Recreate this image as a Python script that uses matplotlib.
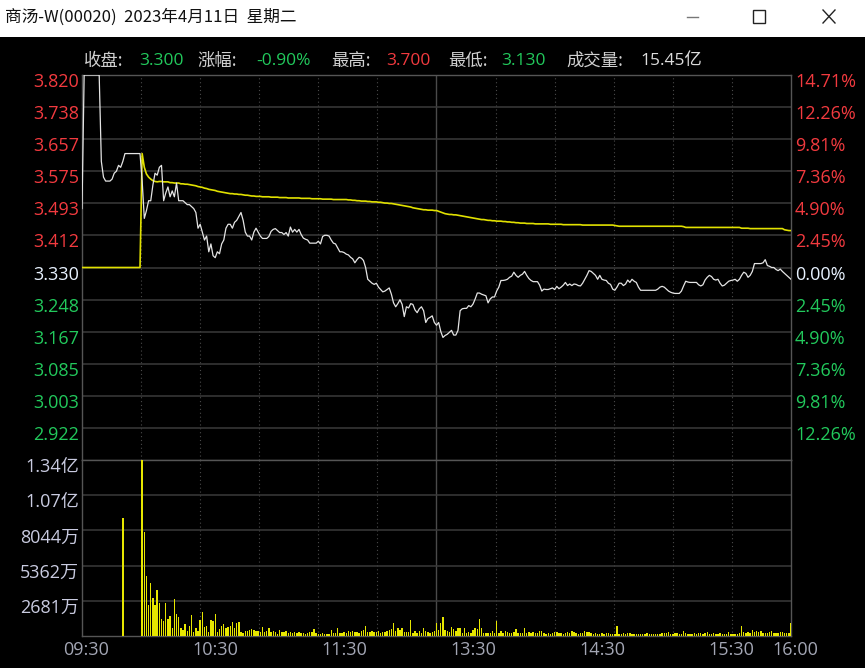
import matplotlib
matplotlib.use('Agg')
import matplotlib.pyplot as plt
from matplotlib import transforms
from matplotlib.lines import Line2D
from matplotlib.patches import Rectangle

# ---------------- data (minute index 0 = 09:30, 330 = 16:00) ----------------
title = '商汤-W(00020)  2023年4月11日  星期二'
prev_close = 3.330

price = [
    3.48, 3.82, 3.82, 3.82, 3.82, 3.82, 3.82, 3.82, 3.82, 3.60,
    3.56, 3.55, 3.55, 3.55, 3.555, 3.57, 3.575, 3.59, 3.585, 3.60,
    3.62, 3.62, 3.62, 3.62, 3.62, 3.62, 3.62, 3.62, 3.55, 3.455,
    3.475, 3.50, 3.50, 3.54, 3.57, 3.565, 3.585, 3.59, 3.50, 3.52,
    3.535, 3.51, 3.525, 3.51, 3.545, 3.50, 3.50, 3.50, 3.495, 3.49,
    3.49, 3.485, 3.48, 3.47, 3.43, 3.44, 3.42, 3.40, 3.41, 3.37,
    3.39, 3.36, 3.355, 3.37, 3.365, 3.39, 3.40, 3.43, 3.44, 3.44,
    3.43, 3.445, 3.45, 3.46, 3.47, 3.45, 3.42, 3.41, 3.41, 3.40,
    3.42, 3.43, 3.42, 3.41, 3.404, 3.404, 3.404, 3.409, 3.422, 3.427,
    3.429, 3.424, 3.419, 3.419, 3.414, 3.419, 3.41, 3.433, 3.42, 3.427,
    3.42, 3.427, 3.414, 3.405, 3.402, 3.40, 3.392, 3.392, 3.392, 3.392,
    3.397, 3.39, 3.409, 3.412, 3.412, 3.41, 3.40, 3.392, 3.39, 3.38,
    3.37, 3.37, 3.368, 3.364, 3.362, 3.356, 3.352, 3.342, 3.35, 3.356,
    3.354, 3.348, 3.33, 3.30, 3.295, 3.29, 3.287, 3.29, 3.28, 3.274,
    3.268, 3.27, 3.274, 3.278, 3.262, 3.24, 3.23, 3.238, 3.248, 3.236,
    3.205, 3.23, 3.227, 3.238, 3.236, 3.222, 3.215, 3.225, 3.23, 3.22,
    3.19, 3.20, 3.203, 3.207, 3.19, 3.183, 3.19, 3.167, 3.152, 3.157,
    3.16, 3.165, 3.17, 3.158, 3.158, 3.17, 3.22, 3.225, 3.226, 3.226,
    3.233, 3.23, 3.237, 3.25, 3.265, 3.265, 3.262, 3.26, 3.258, 3.24,
    3.25, 3.255, 3.255, 3.27, 3.28, 3.297, 3.297, 3.298, 3.30, 3.305,
    3.308, 3.318, 3.31, 3.305, 3.31, 3.313, 3.32, 3.31, 3.302, 3.297,
    3.294, 3.294, 3.294, 3.285, 3.27, 3.275, 3.274, 3.274, 3.276, 3.278,
    3.274, 3.282, 3.276, 3.28, 3.285, 3.292, 3.284, 3.288, 3.284, 3.288,
    3.287, 3.284, 3.283, 3.29, 3.30, 3.31, 3.322, 3.32, 3.315, 3.31,
    3.30, 3.31, 3.30, 3.298, 3.297, 3.29, 3.287, 3.275, 3.272, 3.28,
    3.29, 3.29, 3.284, 3.288, 3.298, 3.292, 3.30, 3.295, 3.292, 3.28,
    3.272, 3.272, 3.272, 3.272, 3.272, 3.272, 3.272, 3.272, 3.275, 3.28,
    3.282, 3.28, 3.275, 3.27, 3.267, 3.265, 3.264, 3.264, 3.264, 3.27,
    3.283, 3.295, 3.293, 3.292, 3.292, 3.292, 3.292, 3.286, 3.283, 3.286,
    3.298, 3.305, 3.31, 3.307, 3.30, 3.298, 3.30, 3.29, 3.283, 3.285,
    3.29, 3.295, 3.297, 3.298, 3.30, 3.295, 3.30, 3.31, 3.318, 3.315,
    3.305, 3.31, 3.32, 3.34, 3.34, 3.34, 3.34, 3.342, 3.35, 3.335,
    3.333, 3.33, 3.33, 3.325, 3.322, 3.326, 3.32, 3.315, 3.31, 3.305,
    3.30,
]

avg_price = [
    3.330, 3.330, 3.330, 3.330, 3.330, 3.330, 3.330, 3.330, 3.330, 3.330,
    3.330, 3.330, 3.330, 3.330, 3.330, 3.330, 3.330, 3.330, 3.330, 3.330,
    3.330, 3.330, 3.330, 3.330, 3.330, 3.330, 3.330, 3.330, 3.620, 3.585,
    3.568, 3.560, 3.555, 3.551, 3.549, 3.548, 3.549, 3.549, 3.548, 3.548,
    3.548, 3.546, 3.546, 3.545, 3.545, 3.545, 3.543, 3.543, 3.542, 3.542,
    3.541, 3.540, 3.539, 3.538, 3.536, 3.535, 3.534, 3.532, 3.531, 3.529,
    3.528, 3.527, 3.526, 3.524, 3.523, 3.522, 3.521, 3.520, 3.519, 3.518,
    3.518, 3.517, 3.517, 3.516, 3.516, 3.515, 3.514, 3.514, 3.513, 3.512,
    3.512, 3.511, 3.511, 3.511, 3.510, 3.510, 3.510, 3.510, 3.509, 3.509,
    3.509, 3.509, 3.508, 3.508, 3.508, 3.508, 3.507, 3.507, 3.507, 3.507,
    3.507, 3.507, 3.506, 3.506, 3.506, 3.506, 3.506, 3.505, 3.505, 3.505,
    3.505, 3.505, 3.504, 3.504, 3.504, 3.504, 3.504, 3.503, 3.503, 3.503,
    3.503, 3.503, 3.503, 3.503, 3.502, 3.502, 3.501, 3.501, 3.500, 3.500,
    3.499, 3.499, 3.499, 3.498, 3.498, 3.497, 3.497, 3.497, 3.496, 3.496,
    3.495, 3.494, 3.494, 3.493, 3.493, 3.492, 3.491, 3.490, 3.489, 3.488,
    3.487, 3.486, 3.485, 3.484, 3.482, 3.481, 3.480, 3.479, 3.478, 3.477,
    3.477, 3.476, 3.476, 3.476, 3.475, 3.475, 3.473, 3.471, 3.469, 3.467,
    3.466, 3.465, 3.465, 3.464, 3.464, 3.463, 3.462, 3.461, 3.460, 3.459,
    3.458, 3.457, 3.456, 3.455, 3.454, 3.453, 3.452, 3.452, 3.451, 3.450,
    3.450, 3.449, 3.449, 3.448, 3.448, 3.448, 3.447, 3.447, 3.446, 3.446,
    3.445, 3.445, 3.444, 3.444, 3.443, 3.443, 3.443, 3.442, 3.442, 3.442,
    3.442, 3.441, 3.441, 3.441, 3.441, 3.441, 3.441, 3.441, 3.440, 3.440,
    3.440, 3.440, 3.440, 3.440, 3.439, 3.439, 3.439, 3.439, 3.439, 3.439,
    3.439, 3.439, 3.439, 3.438, 3.438, 3.438, 3.438, 3.438, 3.438, 3.438,
    3.438, 3.438, 3.438, 3.438, 3.438, 3.438, 3.438, 3.438, 3.437, 3.436,
    3.435, 3.435, 3.435, 3.435, 3.435, 3.435, 3.435, 3.435, 3.435, 3.435,
    3.435, 3.435, 3.435, 3.435, 3.435, 3.435, 3.435, 3.435, 3.435, 3.435,
    3.435, 3.435, 3.435, 3.435, 3.435, 3.435, 3.435, 3.435, 3.435, 3.435,
    3.434, 3.432, 3.432, 3.432, 3.432, 3.432, 3.432, 3.432, 3.432, 3.432,
    3.432, 3.432, 3.432, 3.432, 3.432, 3.432, 3.432, 3.432, 3.432, 3.432,
    3.432, 3.432, 3.432, 3.432, 3.432, 3.432, 3.432, 3.430, 3.430, 3.430,
    3.430, 3.429, 3.429, 3.429, 3.429, 3.429, 3.429, 3.429, 3.429, 3.429,
    3.429, 3.429, 3.429, 3.429, 3.429, 3.429, 3.429, 3.426, 3.425, 3.424,
    3.424,
]

# volume per minute, in 万 shares
volume = [
    0, 0, 0, 0, 0, 0, 0, 0, 0, 0,
    0, 0, 0, 0, 0, 0, 0, 0, 0, 9015,
    0, 0, 0, 0, 0, 0, 0, 0, 13406, 7900,
    4600, 2360, 4060, 2870, 2360, 3500, 2490, 1300, 1140, 2490,
    1300, 1550, 580, 2790, 1650, 1470, 580, 460, 940, 380,
    740, 1600, 330, 580, 380, 1220, 1850, 710, 760, 330,
    1220, 1140, 1650, 330, 530, 760, 940, 580, 710, 740,
    1040, 580, 970, 1040, 330, 250, 380, 380, 460, 510,
    460, 410, 380, 330, 660, 330, 380, 580, 330, 410,
    330, 150, 480, 280, 280, 380, 250, 280, 200, 280,
    200, 280, 200, 230, 180, 230, 280, 330, 530, 250,
    150, 130, 200, 150, 130, 130, 480, 200, 250, 610,
    250, 200, 280, 250, 410, 330, 380, 330, 330, 200,
    410, 480, 760, 280, 330, 410, 280, 330, 380, 200,
    330, 330, 410, 480, 510, 970, 380, 580, 460, 610,
    330, 330, 280, 1220, 200, 380, 200, 410, 250, 580,
    380, 330, 250, 330, 380, 970, 480, 1016, 1422, 457,
    406, 330, 660, 508, 406, 584, 584, 254, 584, 254,
    330, 254, 457, 584, 508, 1295, 584, 254, 203, 203,
    254, 406, 254, 1143, 254, 406, 254, 406, 279, 254,
    203, 279, 508, 203, 254, 254, 584, 254, 279, 203,
    279, 203, 203, 406, 406, 203, 152, 203, 152, 203,
    330, 330, 203, 203, 152, 203, 279, 203, 406, 279,
    203, 152, 203, 203, 406, 330, 279, 203, 152, 254,
    152, 152, 203, 152, 254, 203, 152, 152, 152, 787,
    152, 152, 203, 152, 203, 203, 152, 152, 152, 152,
    152, 152, 152, 203, 152, 152, 152, 152, 152, 152,
    203, 254, 203, 330, 152, 152, 203, 203, 152, 152,
    406, 203, 152, 152, 152, 203, 152, 203, 254, 152,
    203, 279, 152, 152, 254, 152, 152, 203, 152, 152,
    152, 279, 152, 152, 152, 152, 203, 762, 279, 254,
    330, 203, 457, 330, 406, 330, 406, 254, 254, 203,
    330, 381, 254, 254, 203, 330, 279, 254, 203, 254,
    965,
]

minutes = list(range(len(price)))
assert len(price) == len(avg_price) == len(volume) == 331

price_ticks = [3.820, 3.738, 3.657, 3.575, 3.493, 3.412, 3.330,
               3.248, 3.167, 3.085, 3.003, 2.922]
price_labels = ['3.820', '3.738', '3.657', '3.575', '3.493', '3.412', '3.330',
                '3.248', '3.167', '3.085', '3.003', '2.922']
pct_labels = ['14.71%', '12.26%', '9.81%', '7.36%', '4.90%', '2.45%', '0.00%',
              '2.45%', '4.90%', '7.36%', '9.81%', '12.26%']
vol_ticks = [13406, 10725, 8044, 5362, 2681]
vol_labels = ['1.34亿', '1.07亿', '8044万', '5362万', '2681万']
time_ticks = [0, 60, 120, 180, 240, 300, 330]
time_labels = ['09:30', '10:30', '11:30', '13:30', '14:30', '15:30', '16:00']

header = [('收盘:', '3.300', 'down'), ('涨幅:', '-0.90%', 'down'),
          ('最高:', '3.700', 'up'), ('最低:', '3.130', 'down'),
          ('成交量:', '15.45亿', 'flat')]

# ---------------- style ----------------
RED = '#f23a3f'
GREEN = '#22c95c'
WHITE = '#e8f2ff'
GRID = '#3a3a3a'
SPINE = '#555555'
PRICE_C = '#e4e4e4'
AVG_C = '#e1e100'
VOL_C = '#e6e600'
LBL = '#c9cbe0'

plt.rcParams['font.family'] = ['Open Sans', 'Noto Sans CJK SC', 'DejaVu Sans']

W, H = 865, 668
fig = plt.figure(figsize=(W / 100, H / 100), dpi=100, facecolor='black')


def fx(x):
    return x / W


def fy(y):
    return 1 - y / H


# window title bar
fig.add_artist(Rectangle((0, fy(37)), 1, 37 / H, transform=fig.transFigure,
                         facecolor='white', edgecolor='none'))
fig.text(fx(5), fy(17), title, color='#111111', fontsize=12, va='center',
         family=['Noto Sans CJK SC', 'DejaVu Sans'])
fig.add_artist(Line2D([fx(687), fx(698)], [fy(17), fy(17)], color='#777777', lw=1))
fig.add_artist(Rectangle((fx(753), fy(23)), 12 / W, 13 / H, transform=fig.transFigure,
                         facecolor='none', edgecolor='#222222', lw=1))
fig.add_artist(Line2D([fx(823), fx(835)], [fy(10), fy(23)], color='#222222', lw=1))
fig.add_artist(Line2D([fx(823), fx(835)], [fy(23), fy(10)], color='#222222', lw=1))

# header line
xs = [84, 139, 197, 256, 331, 386, 448, 501, 566, 640]
val_colors = {'up': RED, 'down': GREEN, 'flat': '#dcdcdc'}
i = 0
for name, val, kind in header:
    fig.text(fx(xs[i]), fy(61), name, color='#d0d0d0', fontsize=12.5, va='center',
             family=['Noto Sans CJK SC', 'DejaVu Sans'])
    fig.text(fx(xs[i + 1]), fy(61), val, color=val_colors[kind], fontsize=12.5,
             va='center')
    i += 2

# ---------------- axes ----------------
ax = fig.add_axes([fx(82), fy(460), 709 / W, 385 / H])
axv = fig.add_axes([fx(82), fy(636), 709 / W, 176 / H])

for a in (ax, axv):
    a.set_facecolor('black')
    a.set_xlim(0, 330)
    a.set_xticks([])
    a.set_yticks([])
    for s in a.spines.values():
        s.set_color(SPINE)
        s.set_linewidth(1.0)
    for k in range(1, 12):
        x = 330 * k / 12
        if k == 6:
            a.axvline(x, color='#4a4a4a', lw=1.0, zorder=0)
        else:
            a.axvline(x, color='#4a4a4a', lw=0.8, ls=(0, (1, 2.5)), zorder=0)

ax.set_ylim(prev_close - 0.49, prev_close + 0.49)
axv.set_ylim(0, 13406)

for t in price_ticks:
    ax.axhline(t, color=GRID, lw=1.1, zorder=0)
for t in vol_ticks:
    axv.axhline(t, color=GRID, lw=1.1, zorder=0)

ax.plot(minutes, avg_price, color=AVG_C, lw=1.2, zorder=3)
ax.plot(minutes, price, color=PRICE_C, lw=0.9, zorder=4)
axv.bar(minutes, volume, width=0.65, color=VOL_C, linewidth=0,
        antialiased=False, zorder=3)

# price labels
left_tr = transforms.offset_copy(
    transforms.blended_transform_factory(ax.transAxes, ax.transData),
    fig=fig, x=-3, y=-7, units='dots')
right_tr = transforms.offset_copy(
    transforms.blended_transform_factory(ax.transAxes, ax.transData),
    fig=fig, x=4, y=-7, units='dots')
for t, lab, pct in zip(price_ticks, price_labels, pct_labels):
    if t > prev_close + 1e-6:
        c = RED
    elif t < prev_close - 1e-6:
        c = GREEN
    else:
        c = WHITE
    ax.text(0, t, lab, transform=left_tr, ha='right', va='center', color=c,
            fontsize=13)
    ax.text(1, t, pct, transform=right_tr, ha='left', va='center', color=c,
            fontsize=13)

# volume labels
vleft_tr = transforms.offset_copy(
    transforms.blended_transform_factory(axv.transAxes, axv.transData),
    fig=fig, x=-3, y=-7, units='dots')
for t, lab in zip(vol_ticks, vol_labels):
    axv.text(0, t, lab, transform=vleft_tr, ha='right', va='center', color=LBL,
             fontsize=13)

# time labels
time_tr = transforms.offset_copy(
    transforms.blended_transform_factory(axv.transData, axv.transAxes),
    fig=fig, x=4.5, y=-14, units='dots')
for t, lab in zip(time_ticks, time_labels):
    axv.text(t, 0, lab, transform=time_tr, ha='center', va='center',
             color='#a3a6b4', fontsize=13)

fig.savefig('out.png', dpi=100, facecolor='black')
